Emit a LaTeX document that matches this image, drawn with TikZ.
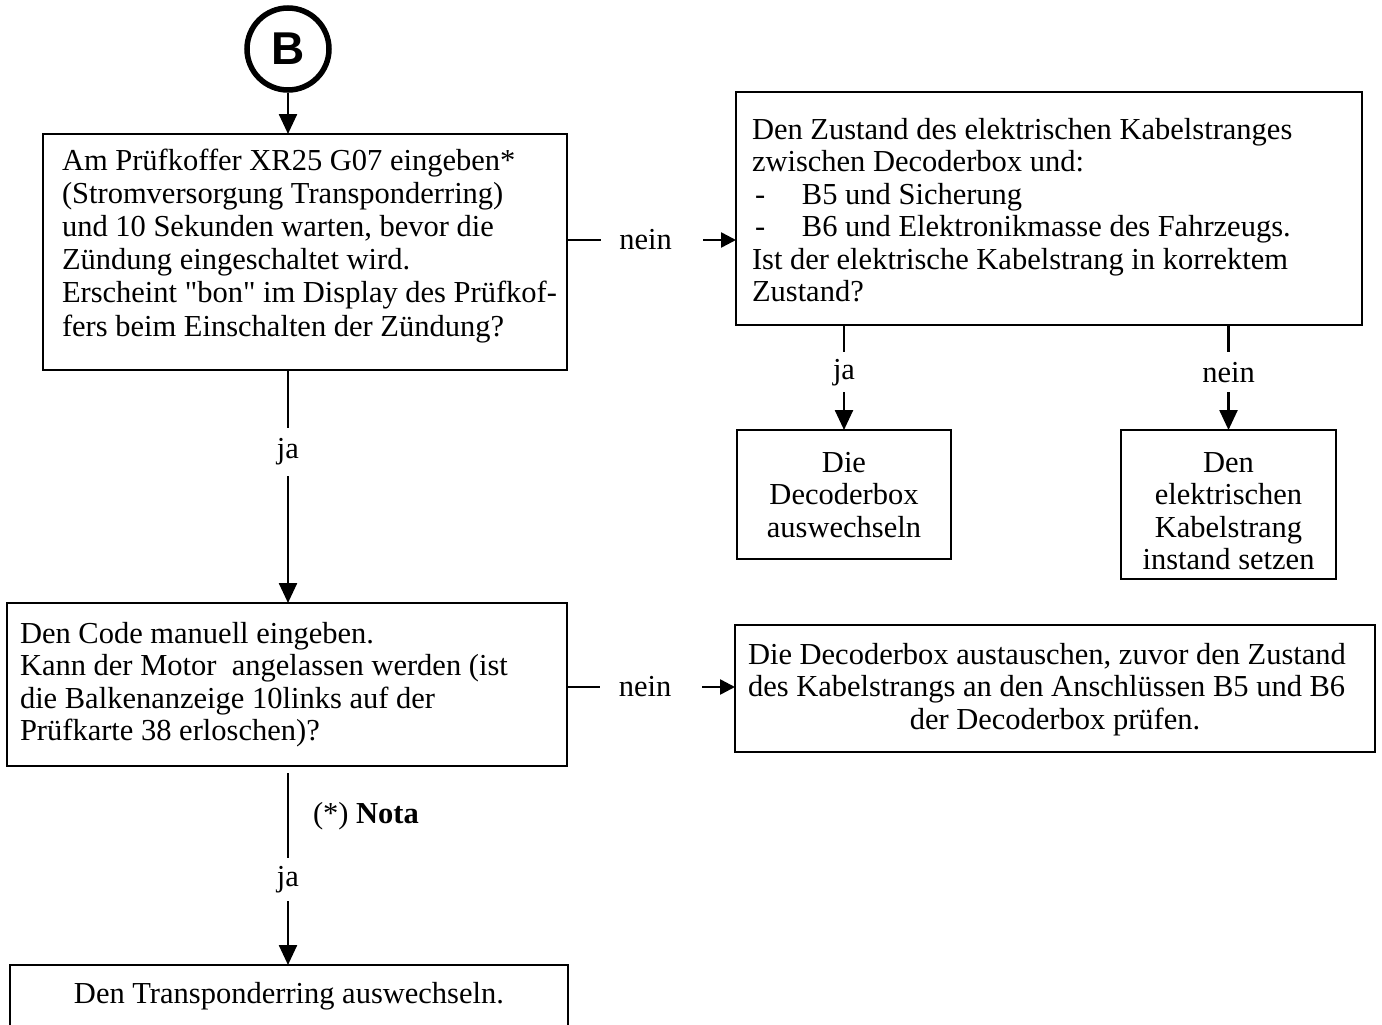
\documentclass[tikz,border=0pt]{standalone}
\usepackage{fontspec}
\setmainfont{Liberation Serif}
\newfontfamily\bfont{Liberation Sans}
\usetikzlibrary{arrows.meta}
\newcommand\txa{\fontsize{30.5}{33.2}\selectfont}
\newcommand\txb{\fontsize{30.5}{32.5}\selectfont}
\begin{document}
\begin{tikzpicture}[x=1pt,y=-1pt,
  box/.style={draw,line width=2.7pt,inner sep=0pt,outer sep=0pt},
  tx/.style={inner sep=0pt,outer sep=0pt,font=\txb},
  lbl/.style={fill=white,inner sep=0pt,outer sep=0pt,font=\txb},
  arv/.style={line width=2.5pt,-{Triangle[length=20pt,width=18pt]}},
  arh/.style={line width=2.5pt,-{Triangle[length=15pt,width=15pt]}}]
\path[use as bounding box,clip] (0,0) rectangle (1382,1025);
\fill[white] (0,0) rectangle (1382,1025);
% start circle
\node[circle,draw,line width=5.5pt,minimum size=82pt,inner sep=0pt,font=\bfont\bfseries\fontsize{46}{46}\selectfont] (B) at (288,49) {B};
% boxes
\node[box,minimum width=524pt,minimum height=236pt] (b1) at (305,252) {};
\node[box,minimum width=626pt,minimum height=233pt] (b2) at (1049,208.5) {};
\node[box,minimum width=214pt,minimum height=129pt] (b3) at (844,494.5) {};
\node[box,minimum width=215pt,minimum height=149pt] (b4) at (1228.5,504.5) {};
\node[box,minimum width=560pt,minimum height=163pt] (b5) at (287,684.5) {};
\node[box,minimum width=640pt,minimum height=127pt] (b6) at (1055,688.5) {};
\node[box,minimum width=558pt,minimum height=80pt] (b7) at (289,1005) {};
% texts
\node[tx,font=\txa,align=left,anchor=north west] (t1) at (62,146.8) {\strut Am Prüfkoffer XR25 G07 eingeben*\\(Stromversorgung Transponderring)\\und 10 Sekunden warten, bevor die\\Zündung eingeschaltet wird.\\Erscheint \textquotedbl bon\textquotedbl\ im Display des Prüfkof-\\fers beim Einschalten der Zündung?};
\node[tx,align=left,anchor=north west] (t2) at (752,116.7) {\strut Den Zustand des elektrischen Kabelstranges\\zwischen Decoderbox und:\\\makebox[50pt][l]{\hspace{3pt}-}B5 und Sicherung\\\makebox[50pt][l]{\hspace{3pt}-}B6 und Elektronikmasse des Fahrzeugs.\\Ist der elektrische Kabelstrang in korrektem\\Zustand?};
\node[tx,align=center,anchor=north] (t3) at (844,449.7) {\strut Die\\Decoderbox\\auswechseln};
\node[tx,align=center,anchor=north] (t4) at (1228.5,449.7) {\strut Den\\elektrischen\\Kabelstrang\\instand setzen};
\node[tx,align=left,anchor=north west] (t5) at (20,620.7) {\strut Den Code manuell eingeben.\\Kann der Motor~ angelassen werden (ist\\die Balkenanzeige 10links auf der\\Prüfkarte 38 erloschen)?};
\node[tx,align=left,anchor=north west] (t6) at (748,641.7) {\strut Die Decoderbox austauschen, zuvor den Zustand\\des Kabelstrangs an den Anschlüssen B5 und B6};
\node[tx,anchor=base] (t6b) at (1055,729) {der Decoderbox prüfen.};
\node[tx,anchor=base] (t7) at (289,1003) {Den Transponderring auswechseln.};
\node[tx,anchor=base west] (nota) at (313,823) {(*) \textbf{Nota}};
% connectors
\draw[arv] (B.south) -- (B.south |- b1.north);
\coordinate (y1) at (0,240);
\coordinate (y2) at (0,687);
\draw[arh] (b1.east |- y1) -- (b2.west |- y1)
  node[lbl,pos=0.5,minimum width=102pt,minimum height=30pt] (n1) {\hspace*{-12pt}nein};
\draw[arh] (b5.east |- y2) -- (b6.west |- y2)
  node[lbl,pos=0.5,minimum width=102pt,minimum height=30pt] (n2) {\hspace*{-12pt}nein};
\draw[arv] (b1.south -| B.south) -- (b5.north -| B.south)
  node[lbl,pos=0.35,minimum height=48pt] (j1) {ja};
\draw[arv] (b2.south -| b3.north) -- (b3.north)
  node[lbl,pos=0.45,minimum height=40pt] (j2) {ja};
\draw[arv] (b2.south -| b4.north) -- (b4.north)
  node[lbl,pos=0.45,minimum height=40pt] (n3) {nein};
\draw[arv,shorten <=7pt] (b5.south -| B.south) -- (b7.north -| B.south)
  node[lbl,pos=0.57,minimum height=43pt] (j3) {ja};
\end{tikzpicture}
\end{document}
